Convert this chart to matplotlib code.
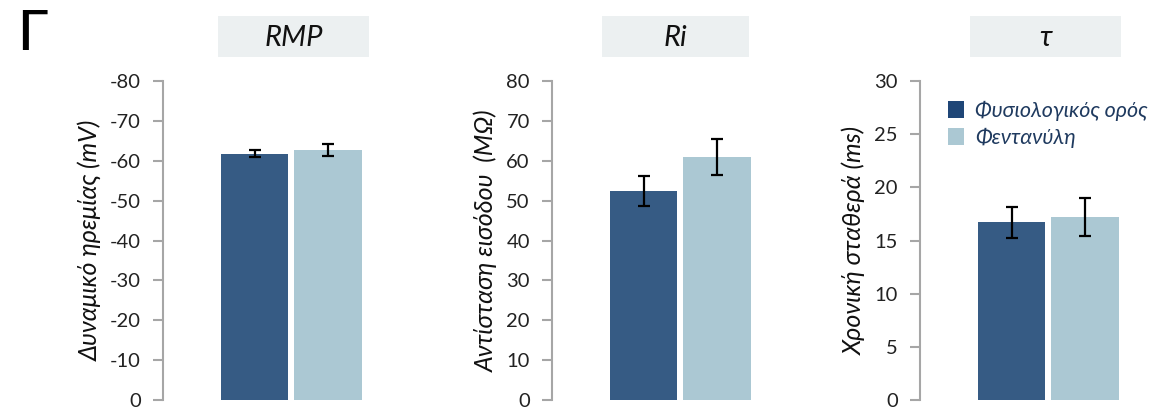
import matplotlib
matplotlib.use("Agg")
import matplotlib.pyplot as plt
from matplotlib.patches import Rectangle, Patch

plt.rcParams['font.family'] = ['Lato', 'Noto Sans', 'DejaVu Sans']
plt.rcParams['axes.unicode_minus'] = False

groups = ['Φυσιολογικός ορός', 'Φεντανύλη']
titles = ['RMP', 'Ri', 'τ']
ylabels = ['Δυναμικό ηρεμίας (mV)', 'Αντίσταση εισόδου  (MΩ)', 'Χρονική σταθερά (ms)']

rmp_mean = [-61.8, -62.7]
rmp_err = [0.9, 1.4]
ri_mean = [52.4, 60.9]
ri_err = [3.8, 4.5]
tau_mean = [16.7, 17.2]
tau_err = [1.45, 1.75]

ylims = [(0, -80), (0, 80), (0, 30)]
yticks = [list(range(0, -81, -10)), list(range(0, 81, 10)), list(range(0, 31, 5))]

bar_colors = ['#365b84', '#abc8d3']
legend_colors = ['#1f4677', '#abc8d3']
spine_col = '#a6a6a6'

W, H = 1154, 413
fig = plt.figure(figsize=(W / 100, H / 100), dpi=100)

axis_x = [163, 552, 920]      # pixel position of each y axis
box_x = [(218, 369), (602, 749), (970, 1121)]
means = [rmp_mean, ri_mean, tau_mean]
errs = [rmp_err, ri_err, tau_err]

for i in range(3):
    ax = fig.add_axes([axis_x[i] / W, 13 / H, 217 / W, 319 / H])
    ax.bar([0, 1], means[i], width=0.92, color=bar_colors,
           yerr=errs[i], capsize=4,
           error_kw=dict(ecolor='black', elinewidth=1.6, capthick=1.6))
    ax.set_xlim(-1.24, 1.7)
    ax.set_ylim(*ylims[i])
    ax.set_yticks(yticks[i])
    ax.set_xticks([])
    for s in ['top', 'right', 'bottom']:
        ax.spines[s].set_visible(False)
    ax.spines['left'].set_color(spine_col)
    ax.spines['left'].set_linewidth(1.5)
    ax.tick_params(axis='y', direction='out', length=7, width=1.5,
                   color=spine_col, labelsize=14.5, labelcolor='#222222', pad=9)
    ax.set_ylabel(ylabels[i], fontsize=18, fontstyle='italic', color='#111111',
                  labelpad=6)

    # grey title box
    x0, x1 = box_x[i]
    fig.patches.append(Rectangle((x0 / W, 1 - 57 / H), (x1 - x0) / W, 41 / H,
                                 transform=fig.transFigure, facecolor='#ecf0f1',
                                 edgecolor='none', zorder=0))
    fig.text((x0 + x1) / 2 / W, 1 - 38 / H, titles[i], ha='center', va='center',
             fontsize=21, fontstyle='italic', color='#111111')

    if i == 2:
        handles = [Patch(facecolor=c, edgecolor='none') for c in legend_colors]
        leg = ax.legend(handles, groups, loc='upper left',
                        bbox_to_anchor=(0.04, 1.0), frameon=False,
                        prop=dict(size=15.5, style='italic'),
                        handlelength=0.75, handleheight=0.85,
                        handletextpad=0.5, labelspacing=0.35)
        for t in leg.get_texts():
            t.set_color('#1f3a5f')

fig.text(17 / W, 1 - 35 / H, 'Γ', fontsize=40, fontweight='medium',
         ha='left', va='center', color='black')

fig.savefig('out.png', dpi=100)
